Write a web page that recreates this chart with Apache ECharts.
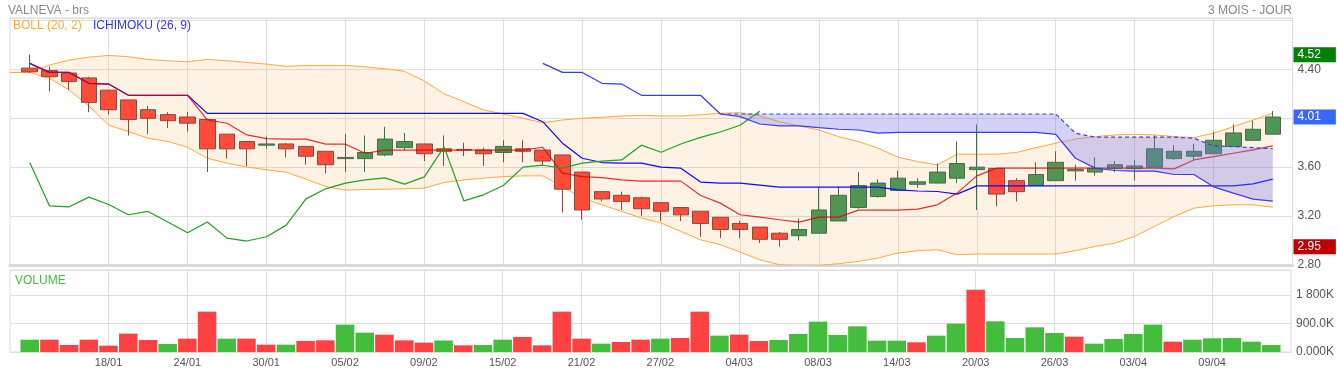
<!DOCTYPE html>
<html><head><meta charset="utf-8">
<script src="https://cdn.jsdelivr.net/npm/echarts@6/dist/echarts.min.js"></script>
<style>html,body{margin:0;padding:0;background:#fff}#c{width:1337px;height:373px}</style>
</head><body><div id="c"></div><script>
// x categories (first = day before the window, last = padding day)
const dates = ['11/01','12/01','15/01','16/01','17/01','18/01','19/01','22/01','23/01','24/01','25/01','26/01','29/01','30/01','31/01',
'01/02','02/02','05/02','06/02','07/02','08/02','09/02','12/02','13/02','14/02','15/02','16/02','19/02','20/02','21/02','22/02','23/02','26/02','27/02','28/02','29/02',
'01/03','04/03','05/03','06/03','07/03','08/03','11/03','12/03','13/03','14/03','15/03','18/03','19/03','20/03','21/03','22/03','25/03','26/03','27/03','28/03',
'02/04','03/04','04/04','05/04','08/04','09/04','10/04','11/04','12/04','15/04'];

// candles (12/01 .. 12/04)
const opens  = [4.41,4.39,4.37,4.33,4.23,4.15,4.07,4.03,4.01,3.99,3.87,3.81,3.78,3.79,3.77,3.73,3.67,3.67,3.70,3.76,3.79,3.75,3.745,3.74,3.72,3.75,3.74,3.70,3.56,3.40,3.37,3.35,3.31,3.27,3.24,3.19,3.14,3.11,3.06,3.04,3.06,3.16,3.27,3.36,3.41,3.46,3.47,3.51,3.58,3.59,3.49,3.45,3.49,3.57,3.56,3.59,3.59,3.60,3.67,3.69,3.71,3.77,3.82,3.87];
const closes = [4.38,4.34,4.30,4.13,4.07,3.99,4.00,3.98,3.96,3.75,3.75,3.75,3.79,3.75,3.69,3.62,3.68,3.72,3.83,3.81,3.71,3.73,3.74,3.71,3.77,3.73,3.65,3.42,3.25,3.34,3.32,3.26,3.24,3.21,3.14,3.09,3.09,3.01,3.01,3.09,3.25,3.37,3.45,3.47,3.51,3.48,3.56,3.63,3.60,3.38,3.40,3.54,3.64,3.58,3.59,3.62,3.61,3.75,3.73,3.73,3.82,3.88,3.91,4.01];
const lows   = [4.37,4.22,4.23,4.05,4.03,3.86,3.87,3.92,3.89,3.56,3.67,3.61,3.75,3.68,3.62,3.55,3.56,3.56,3.69,3.74,3.65,3.61,3.69,3.61,3.64,3.64,3.62,3.23,3.17,3.32,3.25,3.20,3.16,3.16,3.03,3.02,3.02,2.98,2.95,3.00,3.06,3.16,3.26,3.35,3.41,3.43,3.47,3.47,3.25,3.28,3.32,3.45,3.49,3.49,3.53,3.56,3.49,3.60,3.66,3.66,3.71,3.77,3.82,3.87];
const highs  = [4.52,4.42,4.37,4.34,4.23,4.15,4.10,4.05,4.05,3.99,3.87,3.81,3.85,3.80,3.77,3.73,3.87,3.86,3.93,3.88,3.79,3.86,3.80,3.76,3.82,3.82,3.74,3.70,3.56,3.40,3.40,3.36,3.31,3.27,3.24,3.19,3.16,3.11,3.07,3.18,3.43,3.44,3.56,3.50,3.57,3.51,3.63,3.81,3.95,3.59,3.51,3.64,3.73,3.62,3.68,3.65,3.66,3.86,3.78,3.79,3.89,3.95,3.98,4.06];

// volume in thousands, and bar colour (u = green, d = red)
const volumes = [389,389,221,389,200,579,379,253,421,1274,421,421,232,232,347,368,863,611,547,368,295,363,211,221,389,474,211,1274,421,263,316,389,421,442,1274,516,547,347,379,568,958,537,811,358,358,305,516,895,1968,968,442,779,600,484,263,411,568,863,326,389,432,442,326,221];
const volDir  = ['u','d','d','d','d','d','d','u','d','d','u','d','d','u','d','d','u','u','d','d','d','u','d','u','u','d','d','d','d','u','d','d','u','d','d','u','d','d','u','u','u','u','u','u','u','d','u','u','d','u','u','u','u','d','u','u','u','u','d','u','u','u','u','u'];

// Bollinger (20,2), starting on 11/01
const bollUpper = [4.375,4.375,4.435,4.476,4.50,4.514,4.503,4.481,4.470,4.462,4.481,4.470,4.457,4.443,4.424,4.432,4.432,4.432,4.421,4.405,4.384,4.305,4.200,4.136,4.068,4.035,4.000,3.964,3.986,4.000,4.008,4.019,4.024,4.019,4.019,4.029,4.041,4.046,4.019,3.972,3.937,3.904,3.850,3.810,3.755,3.682,3.646,3.619,3.706,3.706,3.706,3.720,3.760,3.796,3.831,3.850,3.864,3.869,3.864,3.850,3.842,3.878,3.931,3.986,4.041];
const bollLower = [4.375,4.375,4.327,4.231,4.10,3.945,3.891,3.837,3.810,3.763,3.673,3.633,3.602,3.578,3.559,3.502,3.442,3.412,3.417,3.420,3.423,3.429,3.474,3.496,3.510,3.523,3.529,3.529,3.442,3.347,3.292,3.238,3.184,3.143,3.074,3.006,2.966,2.906,2.843,2.802,2.789,2.795,2.811,2.829,2.857,2.898,2.917,2.925,2.884,2.890,2.890,2.890,2.890,2.890,2.917,2.952,2.979,3.034,3.115,3.197,3.265,3.284,3.292,3.292,3.273];

// Ichimoku (26,9)
const tenkan = [4.449,4.375,4.375,4.286,4.280,4.188,4.188,4.188,4.188,3.986,3.959,3.864,3.833,3.829,3.829,3.788,3.788,3.714,3.739,3.739,3.739,3.739,3.739,3.739,3.739,3.739,3.763,3.551,3.523,3.515,3.496,3.486,3.486,3.486,3.368,3.306,3.211,3.192,3.170,3.151,3.192,3.192,3.249,3.249,3.249,3.257,3.292,3.388,3.529,3.592,3.592,3.592,3.592,3.592,3.592,3.592,3.592,3.592,3.586,3.659,3.687,3.714,3.741,3.774];
const kijun  = [4.449,4.375,4.375,4.286,4.280,4.188,4.188,4.188,4.188,4.040,4.040,4.040,4.040,4.040,4.040,4.040,4.040,4.040,4.040,4.040,4.040,4.040,4.040,4.040,4.040,4.040,3.972,3.796,3.673,3.638,3.633,3.633,3.600,3.592,3.478,3.469,3.469,3.453,3.437,3.437,3.437,3.437,3.437,3.437,3.415,3.405,3.401,3.380,3.447,3.447,3.447,3.447,3.447,3.447,3.447,3.447,3.447,3.447,3.447,3.447,3.447,3.447,3.464,3.502];
const chikou = [3.638,3.284,3.276,3.355,3.295,3.211,3.238,3.151,3.064,3.151,3.020,2.996,3.031,3.126,3.341,3.423,3.469,3.496,3.513,3.461,3.521,3.766,3.325,3.374,3.450,3.600,3.616,3.592,3.633,3.649,3.659,3.780,3.722,3.790,3.844,3.888,3.943,4.057];
const spanAStart = 26;
const spanA = [4.449,4.375,4.375,4.286,4.280,4.188,4.188,4.188,4.188,4.035,4.013,3.953,3.937,3.937,3.923,3.910,3.904,3.878,3.885,3.885,3.885,3.885,3.885,3.885,3.885,3.885,3.869,3.673,3.592,3.573,3.567,3.567,3.540,3.540,3.439,3.388,3.339,3.322];
const spanBStart = 35;
const spanB = [4.035,4.035,4.035,4.035,4.035,4.035,4.035,4.035,4.035,4.035,4.035,4.035,4.035,4.035,4.035,4.035,4.035,4.035,3.878,3.845,3.845,3.845,3.845,3.845,3.837,3.774,3.768,3.760,3.752];

const yTicks = [2.8, 3.2, 3.6, 4.0, 4.4];

// ---- build
const NC = dates.length;
function place(arr, startCat) { const out = new Array(NC).fill(null); arr.forEach((v, j) => { out[startCat + j] = v; }); return out; }
// candle i sits on category i+1
const candleData = new Array(NC).fill('-');
opens.forEach((o, i) => { candleData[i + 1] = [o, closes[i], lows[i], highs[i]]; });
const bLow = place(bollLower, 0);
const bDiff = place(bollUpper.map((u, i) => +(u - bollLower[i]).toFixed(4)), 0);
const spanAFull = place(spanA, spanAStart + 1);
const spanBFull = place(spanB, spanBStart + 1);
const cloudDiff = spanBFull.map((b, i) => (b == null || spanAFull[i] == null) ? null : +(b - spanAFull[i]).toFixed(4));
const volData = new Array(NC).fill(null);
volumes.forEach((v, i) => { volData[i + 1] = { value: v, itemStyle: { color: volDir[i] === 'u' ? '#42bd3c' : '#ff4141' } }; });

const maxHigh = Math.max(...highs), minLow = Math.min(...lows), lastClose = closes[closes.length - 1];
const labelIdx = (idx) => idx >= 5 && idx <= 61 && (idx - 5) % 4 === 0;
const FONT = "'Liberation Sans', Arial, sans-serif";
const ORANGE = '#ffa83c';
const boxLabel = (bg) => ({ show: true, position: 'end', distance: 1, color: '#fff', fontSize: 12, fontFamily: FONT,
  backgroundColor: bg, padding: [2, 15, 1, 4], lineHeight: 12, formatter: p => Number(p.value).toFixed(2) });

const chart = echarts.init(document.getElementById('c'), null, { renderer: 'canvas' });
chart.setOption({
  animation: false,
  backgroundColor: '#fff',
  textStyle: { fontFamily: FONT },
  title: [
    { text: 'VALNEVA - brs', left: 3, top: 0, textStyle: { fontSize: 12, fontWeight: 'normal', color: '#8a8a8a', fontFamily: FONT } },
    { text: '3 MOIS - JOUR', right: 40, top: 0, textStyle: { fontSize: 12, fontWeight: 'normal', color: '#8a8a8a', fontFamily: FONT } },
    { text: 'BOLL (20, 2)', left: 8, top: 15, textStyle: { fontSize: 12, fontWeight: 'normal', color: '#ffa83c', fontFamily: FONT } },
    { text: 'ICHIMOKU (26, 9)', left: 88, top: 15, textStyle: { fontSize: 12, fontWeight: 'normal', color: '#3434ff', fontFamily: FONT } },
    { text: 'VOLUME', left: 10, top: 270, textStyle: { fontSize: 12, fontWeight: 'normal', color: '#44bb44', fontFamily: FONT } }
  ],
  grid: [
    { left: 10, right: 44.5, top: 18, bottom: 108, show: true, borderColor: '#dcdcdc', borderWidth: 1 },
    { left: 10, right: 44.5, top: 270, bottom: 21, show: true, borderColor: '#dcdcdc', borderWidth: 1 }
  ],
  xAxis: [
    { type: 'category', gridIndex: 0, data: dates, boundaryGap: false,
      axisLine: { show: true, lineStyle: { color: '#dadada', width: 3 } }, axisTick: { show: false },
      axisLabel: { show: false, interval: labelIdx },
      splitLine: { show: true, interval: labelIdx, lineStyle: { color: '#dedede', width: 1 } } },
    { type: 'category', gridIndex: 1, data: dates, boundaryGap: false,
      axisLine: { show: true, lineStyle: { color: '#dcdcdc', width: 1 } }, axisTick: { show: false },
      axisLabel: { show: true, interval: labelIdx, color: '#555', fontSize: 11, margin: 5, fontFamily: FONT },
      splitLine: { show: true, interval: labelIdx, lineStyle: { color: '#dedede', width: 1 } } }
  ],
  yAxis: [
    { type: 'value', gridIndex: 0, position: 'right', min: 2.8, max: 4.82, interval: 0.4,
      axisLine: { show: false }, axisTick: { show: false },
      axisLabel: { color: '#555', fontSize: 12, margin: 5, fontFamily: FONT,
        formatter: v => { const t = yTicks.find(k => Math.abs(k - v) < 1e-6); return (t === undefined || Math.abs(t - 4.0) < 1e-6) ? '' : t.toFixed(2); } },
      splitLine: { show: true, lineStyle: { color: '#dedede' } } },
    { type: 'value', gridIndex: 1, position: 'right', min: 0, max: 2589, interval: 900,
      axisLine: { show: false }, axisTick: { show: false },
      axisLabel: { color: '#555', fontSize: 12, margin: 5, fontFamily: FONT,
        formatter: v => { if (v === 0) return '0.000K'; if (v === 900) return '900.0K'; if (v === 1800) return '1 800K'; return ''; } },
      splitLine: { show: true, lineStyle: { color: '#dedede' } } }
  ],
  series: [
    { name: 'bollLower', type: 'line', xAxisIndex: 0, yAxisIndex: 0, data: bLow, stack: 'boll', z: 1,
      symbol: 'none', lineStyle: { color: ORANGE, width: 1 } },
    { name: 'bollUpper', type: 'line', xAxisIndex: 0, yAxisIndex: 0, data: bDiff, stack: 'boll', z: 1,
      symbol: 'none', lineStyle: { color: ORANGE, width: 1 }, areaStyle: { color: 'rgba(250,168,80,0.22)' } },
    { name: 'price', type: 'candlestick', xAxisIndex: 0, yAxisIndex: 0, data: candleData, z: 2, barWidth: 16,
      itemStyle: { color: '#4f9553', color0: '#ff4b37', borderColor: '#4a6a4a', borderColor0: '#8a4a3e', borderWidth: 1 } },
    { name: 'kijun', type: 'line', xAxisIndex: 0, yAxisIndex: 0, data: place(kijun, 1), z: 3,
      symbol: 'none', lineStyle: { color: '#0a0aff', width: 1.2 } },
    { name: 'tenkan', type: 'line', xAxisIndex: 0, yAxisIndex: 0, data: place(tenkan, 1), z: 3,
      symbol: 'none', lineStyle: { color: '#dd0000', width: 1.2, opacity: 0.8 } },
    { name: 'chikou', type: 'line', xAxisIndex: 0, yAxisIndex: 0, data: place(chikou, 1), z: 3,
      symbol: 'none', lineStyle: { color: '#22a022', width: 1.2 } },
    { name: 'spanA', type: 'line', xAxisIndex: 0, yAxisIndex: 0, data: spanAFull, stack: 'ichi', z: 4,
      symbol: 'none', lineStyle: { color: '#3a3af5', width: 1.2 } },
    { name: 'spanB', type: 'line', xAxisIndex: 0, yAxisIndex: 0, data: cloudDiff, stack: 'ichi', z: 4,
      symbol: 'none', lineStyle: { color: '#3a3af5', width: 1.2, type: [4, 3] },
      areaStyle: { color: 'rgba(118,118,240,0.45)' } },
    { name: 'levels', type: 'line', xAxisIndex: 0, yAxisIndex: 0, data: [], z: 10, silent: true,
      markLine: { silent: true, symbol: ['none', 'none'], animation: false,
        lineStyle: { color: 'rgba(0,0,0,0)', width: 1 },
        data: [
          { yAxis: maxHigh, label: boxLabel('#008000') },
          { yAxis: lastClose, label: boxLabel('#3a66ff') },
          { yAxis: minLow, label: boxLabel('#c00000') }
        ] } },
    { name: 'volume', type: 'bar', xAxisIndex: 1, yAxisIndex: 1, data: volData, barWidth: 18.5 }
  ]
});
</script></body></html>
